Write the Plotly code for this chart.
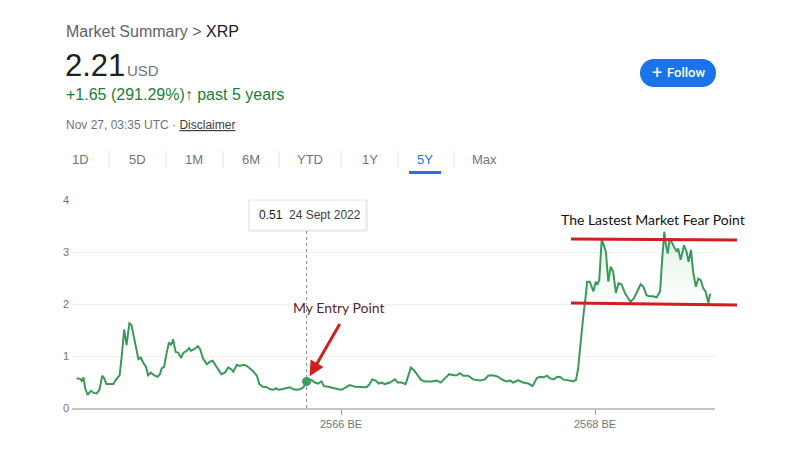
import plotly.graph_objects as go

# ---------------- data ----------------
dates = [
    "2020-12-01", "2020-12-11", "2020-12-16", "2020-12-21", "2020-12-26", "2021-01-02", "2021-01-06",
    "2021-01-12", "2021-01-19", "2021-01-28", "2021-02-05", "2021-02-13", "2021-02-18", "2021-02-25",
    "2021-03-05", "2021-03-17", "2021-03-24", "2021-04-04", "2021-04-10", "2021-04-17", "2021-04-24",
    "2021-04-28", "2021-05-02", "2021-05-08", "2021-05-13", "2021-05-18", "2021-05-23", "2021-05-28",
    "2021-06-04", "2021-06-11", "2021-06-19", "2021-06-25", "2021-07-03", "2021-07-12", "2021-07-22",
    "2021-07-29", "2021-08-03", "2021-08-10", "2021-08-17", "2021-08-24", "2021-08-30", "2021-09-05",
    "2021-09-12", "2021-09-20", "2021-09-28", "2021-10-04", "2021-10-14", "2021-10-21", "2021-10-26",
    "2021-11-05", "2021-11-15", "2021-11-21", "2021-11-30", "2021-12-11", "2021-12-20", "2021-12-28",
    "2022-01-06", "2022-01-16", "2022-01-22", "2022-02-01", "2022-02-11", "2022-02-20", "2022-02-25",
    "2022-03-07", "2022-03-16", "2022-03-26", "2022-04-05", "2022-04-14", "2022-04-24", "2022-05-04",
    "2022-05-11", "2022-05-21", "2022-06-01", "2022-06-11", "2022-06-20", "2022-06-28", "2022-07-05",
    "2022-07-14", "2022-07-27", "2022-08-07", "2022-08-17", "2022-08-27", "2022-09-05", "2022-09-15",
    "2022-09-24", "2022-10-08", "2022-10-18", "2022-10-27", "2022-11-06", "2022-11-13", "2022-11-25",
    "2022-12-10", "2022-12-24", "2023-01-03", "2023-01-17", "2023-01-26", "2023-02-10", "2023-02-24",
    "2023-03-16", "2023-03-25", "2023-04-01", "2023-04-10", "2023-04-20", "2023-04-28", "2023-05-07",
    "2023-05-22", "2023-05-28", "2023-06-05", "2023-06-13", "2023-06-24", "2023-07-06", "2023-07-13",
    "2023-07-21", "2023-07-31", "2023-08-09", "2023-08-19", "2023-08-30", "2023-09-19", "2023-10-03",
    "2023-10-15", "2023-10-27", "2023-11-08", "2023-11-20", "2023-11-30", "2023-12-09", "2023-12-19",
    "2024-01-02", "2024-01-16", "2024-02-05", "2024-02-19", "2024-02-28", "2024-03-09", "2024-03-19",
    "2024-03-28", "2024-04-07", "2024-04-21", "2024-05-01", "2024-05-10", "2024-05-25", "2024-06-08",
    "2024-06-23", "2024-07-05", "2024-07-17", "2024-07-26", "2024-08-05", "2024-08-16", "2024-08-24",
    "2024-09-04", "2024-09-14", "2024-09-24", "2024-10-01", "2024-10-13", "2024-10-26", "2024-10-30",
    "2024-11-07", "2024-11-13", "2024-11-20", "2024-11-28", "2024-12-06", "2024-12-09", "2024-12-17",
    "2024-12-27", "2025-01-03", "2025-01-07", "2025-01-13", "2025-01-20", "2025-01-24", "2025-02-01",
    "2025-02-08", "2025-02-15", "2025-02-22", "2025-03-02", "2025-03-09", "2025-03-18", "2025-03-28",
    "2025-04-06", "2025-04-13", "2025-04-23", "2025-05-02", "2025-05-12", "2025-05-20", "2025-05-29",
    "2025-06-06", "2025-06-16", "2025-06-27", "2025-07-07", "2025-07-13", "2025-07-19", "2025-07-24",
    "2025-07-29", "2025-08-04", "2025-08-10", "2025-08-16", "2025-08-24", "2025-08-28", "2025-09-04",
    "2025-09-14", "2025-09-21", "2025-09-27", "2025-10-04", "2025-10-10", "2025-10-18", "2025-10-25",
    "2025-11-01", "2025-11-08", "2025-11-15", "2025-11-23", "2025-11-28",
]
prices = [
    0.57, 0.56, 0.52, 0.59, 0.38, 0.25, 0.29,
    0.33, 0.29, 0.28, 0.35, 0.62, 0.58, 0.46,
    0.46, 0.46, 0.54, 0.63, 0.99, 1.51, 1.21,
    1.40, 1.63, 1.60, 1.44, 1.24, 1.05, 0.94,
    0.97, 0.87, 0.79, 0.63, 0.68, 0.63, 0.60,
    0.65, 0.76, 0.79, 1.05, 1.26, 1.21, 1.32,
    1.08, 1.06, 0.96, 1.06, 1.10, 1.15, 1.10,
    1.13, 1.19, 1.14, 0.95, 0.84, 0.89, 0.91,
    0.81, 0.70, 0.65, 0.68, 0.78, 0.74, 0.70,
    0.83, 0.81, 0.83, 0.81, 0.76, 0.70, 0.62,
    0.46, 0.41, 0.40, 0.36, 0.35, 0.38, 0.35,
    0.36, 0.38, 0.40, 0.36, 0.35, 0.36, 0.40,
    0.51, 0.54, 0.49, 0.47, 0.51, 0.42, 0.41,
    0.38, 0.36, 0.35, 0.41, 0.44, 0.41, 0.40,
    0.40, 0.47, 0.55, 0.53, 0.47, 0.49, 0.46,
    0.49, 0.51, 0.55, 0.49, 0.49, 0.46, 0.60,
    0.78, 0.72, 0.63, 0.54, 0.51, 0.51, 0.53,
    0.49, 0.57, 0.65, 0.63, 0.63, 0.67, 0.62,
    0.62, 0.55, 0.53, 0.55, 0.62, 0.63, 0.62,
    0.60, 0.55, 0.51, 0.53, 0.49, 0.53, 0.49,
    0.47, 0.42, 0.57, 0.60, 0.59, 0.62, 0.57,
    0.55, 0.60, 0.59, 0.55, 0.54, 0.52, 0.51,
    0.54, 0.75, 1.25, 1.76, 2.21, 2.43, 2.43,
    2.24, 2.43, 2.37, 2.46, 3.24, 3.17, 3.01,
    2.43, 2.72, 2.62, 2.21, 2.40, 2.38, 2.21,
    2.11, 2.04, 2.11, 2.24, 2.38, 2.33, 2.17,
    2.15, 2.15, 2.13, 2.24, 2.85, 3.39, 3.13,
    2.97, 3.26, 3.17, 3.10, 3.01, 3.07, 2.85,
    3.13, 3.01, 2.81, 3.04, 2.62, 2.33, 2.49,
    2.46, 2.30, 2.24, 2.02, 2.20,
]
fill_from = "2024-12-06"

entry_date = "2022-09-24"
entry_price = 0.51
entry_label = "24 Sept 2022"

resistance = [3.25, 3.23]   # hand-drawn upper red line (left, right)
support = [2.02, 1.98]      # hand-drawn lower red line (left, right)

y_ticks = [0, 1, 2, 3, 4]
x_tickvals = ["2023-01-01", "2025-01-01"]
x_ticktext = ["2566 BE", "2568 BE"]
x_range = ["2020-11-18", "2025-12-12"]

tabs = ["1D", "5D", "1M", "6M", "YTD", "1Y", "5Y", "Max"]
active_tab = "5Y"

# ---------------- layout helpers ----------------
W, H = 802, 450
OFF = 8                      # the page body margin shifts the figure by 8 px
L, R, T, B = 72, 715, 200, 408   # plot area in screen pixels


def px(x):
    return (x - L) / (R - L)


def py(y):
    return (B - y) / (B - T)


ARIAL = "Liberation Sans, Arial, sans-serif"
CAL = "Lato, Carlito, sans-serif"
GRAY = "#70757a"
LINE_GREEN = "#3a9a5a"
RED = "#d11f1f"

fig = go.Figure()

i0 = dates.index(fill_from)
fig.add_trace(go.Scatter(
    x=dates[i0:], y=prices[i0:], mode="lines",
    line=dict(width=0, color="rgba(0,0,0,0)"),
    fill="tozeroy",
    fillgradient=dict(type="vertical",
                      colorscale=[[0, "rgba(52,168,83,0)"], [1, "rgba(52,168,83,0.15)"]],
                      start=1.9, stop=3.4),
    hoverinfo="skip", showlegend=False,
))
fig.add_trace(go.Scatter(
    x=dates, y=prices, mode="lines",
    line=dict(color=LINE_GREEN, width=2),
    hoverinfo="skip", showlegend=False,
))
fig.add_trace(go.Scatter(
    x=[entry_date], y=[entry_price], mode="markers",
    marker=dict(color="#34a05a", size=9),
    hoverinfo="skip", showlegend=False,
))

shapes = []
annotations = []


def text(x, y, s, size, color, anchor="left", family=ARIAL, **kw):
    annotations.append(dict(
        xref="paper", yref="paper", x=px(x), y=py(y), text=s, showarrow=False,
        xanchor=anchor, yanchor="middle",
        font=dict(size=size, color=color, family=family, **kw)))


# header
text(64, 31, "<span style='color:#5f6368'>Market Summary &gt; </span>XRP", 16, "#202124")
text(63, 65, "2.21", 31, "#202124")
text(125, 70, "USD", 15, GRAY)
text(64, 94, "+1.65 (291.29%)<b>↑</b> past 5 years", 16, "#188038")
text(64, 125, "Nov 27, 03:35 UTC · <span style='color:#3c4043'><u>Disclaimer</u></span>", 12, GRAY)

# tabs
tab_x = [80, 137, 194, 251, 310, 370, 425, 484]
sep_x = [109, 166, 223, 279, 341, 398, 454]
for lbl, x in zip(tabs, tab_x):
    text(x, 159, lbl, 13, "#1a73e8" if lbl == active_tab else GRAY, anchor="center")
for x in sep_x:
    shapes.append(dict(type="line", xref="paper", yref="paper", x0=px(x), x1=px(x),
                       y0=py(151), y1=py(168), line=dict(color="#e3e3e3", width=1)))
ax_ = tab_x[tabs.index(active_tab)]
shapes.append(dict(type="rect", xref="paper", yref="paper", x0=px(ax_ - 16), x1=px(ax_ + 16),
                   y0=py(174), y1=py(171), fillcolor="#1a73e8", line=dict(width=0)))

# follow button (pill)
bx0, bx1, by0, by1 = 640, 716, 59, 87
r = (by1 - by0) / 2
for cx in (bx0 + r, bx1 - r):
    shapes.append(dict(type="circle", xref="paper", yref="paper",
                       x0=px(cx - r), x1=px(cx + r), y0=py(by1), y1=py(by0),
                       fillcolor="#1a73e8", line=dict(width=0)))
shapes.append(dict(type="rect", xref="paper", yref="paper", x0=px(bx0 + r), x1=px(bx1 - r),
                   y0=py(by1), y1=py(by0), fillcolor="#1a73e8", line=dict(width=0)))
text(657, 73, "+", 18, "white", anchor="center", family="Roboto, Arial, sans-serif")
text(686, 73, "Follow", 13, "white", anchor="center", family="Roboto, Arial, sans-serif", weight=500)

# tooltip box + dotted line
shapes.append(dict(type="rect", xref="paper", yref="paper", x0=px(248), x1=px(368),
                   y0=py(232), y1=py(200), fillcolor="rgba(0,0,0,0.06)", line=dict(width=0)))
shapes.append(dict(type="rect", xref="paper", yref="paper", x0=px(249), x1=px(366),
                   y0=py(230), y1=py(200), fillcolor="white", line=dict(color="#e6e6e6", width=1)))
text(257, 215, f"{entry_price:.2f}", 12, "#202124")
text(287, 215, entry_label, 12, "#3c4043")
shapes.append(dict(type="line", xref="x", yref="paper", x0=entry_date, x1=entry_date,
                   y0=0, y1=py(230), line=dict(color="#8a8a8a", width=1, dash="dot"),
                   layer="below"))

# hand-drawn annotations
shapes.append(dict(type="line", xref="paper", yref="y", x0=px(571), x1=px(737),
                   y0=resistance[0], y1=resistance[1], line=dict(color=RED, width=3)))
shapes.append(dict(type="line", xref="paper", yref="y", x0=px(571), x1=px(737),
                   y0=support[0], y1=support[1], line=dict(color=RED, width=3)))
text(653, 219, "The Lastest Market Fear Point", 14, "#111111", anchor="center", family=CAL)
text(339, 307, "My Entry Point", 14, "#5a1f1f", anchor="center", family=CAL)
annotations.append(dict(xref="x", yref="y", x=entry_date, y=entry_price, text="",
                        showarrow=True, ax=34, ay=-59, arrowhead=2, arrowsize=1,
                        arrowwidth=3, arrowcolor=RED, standoff=6))

fig.update_layout(
    width=W, height=H,
    margin=dict(l=L - OFF, r=W - R + OFF, t=T - OFF, b=H - B + OFF),
    paper_bgcolor="white", plot_bgcolor="white",
    showlegend=False,
    shapes=shapes, annotations=annotations,
    xaxis=dict(type="date", range=x_range, tickvals=x_tickvals, ticktext=x_ticktext,
               showgrid=False, zeroline=False, showline=True, linecolor="#c4c4c4", linewidth=2,
               ticks="outside", ticklen=5, tickcolor="#9a9a9a", tickwidth=1,
               tickfont=dict(size=11, color=GRAY, family=ARIAL), fixedrange=True),
    yaxis=dict(range=[0, 4], tickvals=y_ticks, showgrid=True, gridcolor="#f1f1f1",
               zeroline=False, showline=False, ticks="",
               tickfont=dict(size=11, color=GRAY, family=ARIAL), ticklabelstandoff=2,
               fixedrange=True),
)

fig.write_html("out.html")
